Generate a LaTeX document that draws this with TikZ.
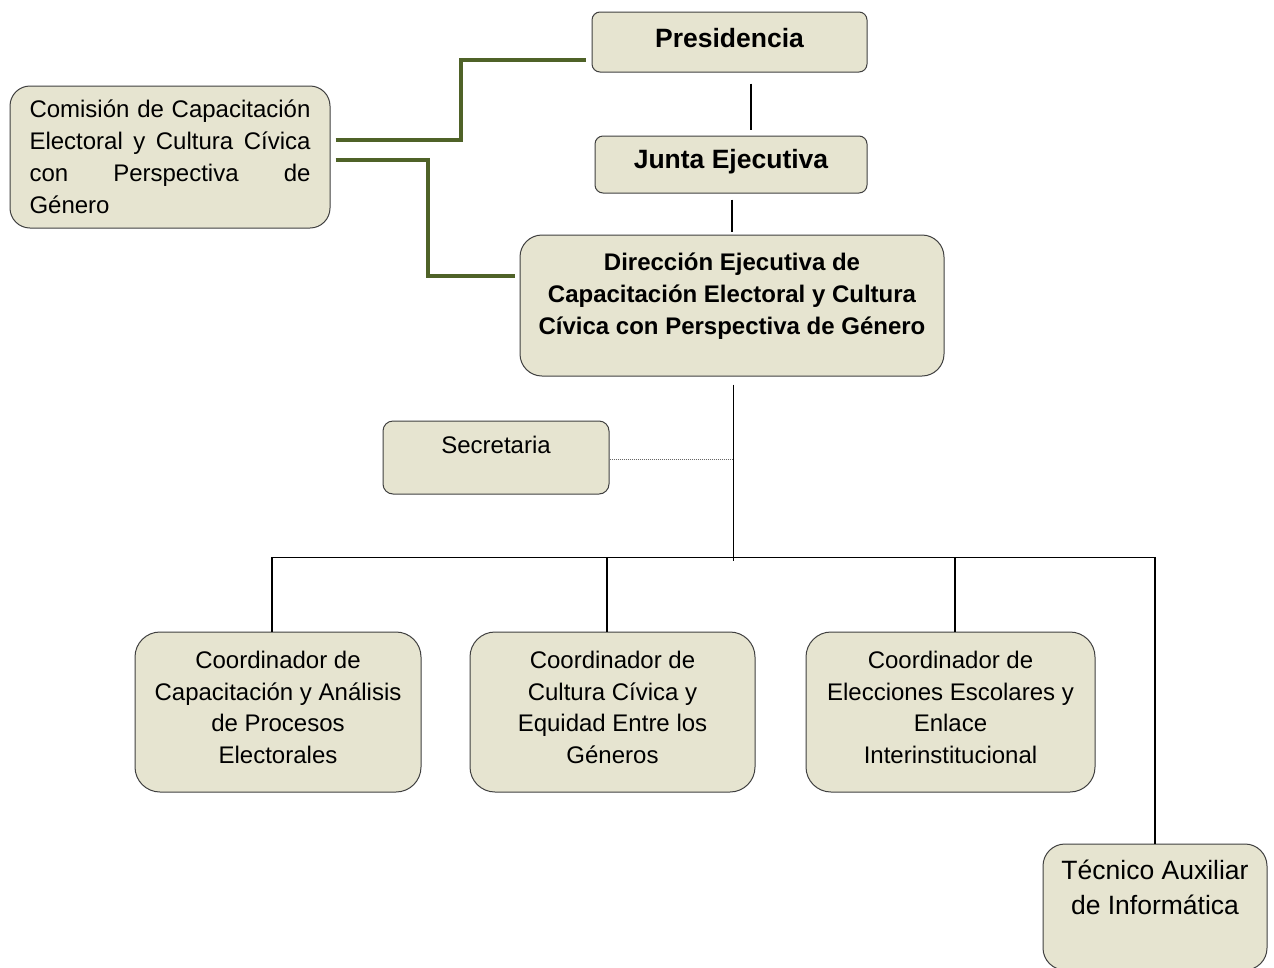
\documentclass[tikz,border=0pt]{standalone}
\usepackage{fontspec}
\setmainfont{Liberation Sans}
\definecolor{boxfill}{HTML}{E6E4D0}
\definecolor{olivegreen}{HTML}{4F6228}
\begin{document}
\begin{tikzpicture}[x=1pt,y=-1pt,
  box/.style={draw=black!75, line width=1pt, fill=boxfill, rounded corners=#1, inner sep=0pt},
  normtext/.style={font=\fontsize{24}{31.5}\selectfont},
  boldtext/.style={font=\bfseries\fontsize{26.5}{32}\selectfont},
  coordbox/.style={box=25pt, minimum height=160pt, align=center, normtext, text depth=9.6pt},
  conn/.style={draw=black, line width=1.5pt},
  thinconn/.style={draw=black, line width=1pt},
  olivelink/.style={draw=olivegreen, line width=4pt},
  dotlink/.style={draw=black!60, line width=1pt, dash pattern=on 1pt off 1pt}]
\clip (0,0) rectangle (1274,967);
\fill[white] (0,0) rectangle (1274,967);

\node[box=8pt, minimum width=275pt, minimum height=60pt, boldtext, text height=19.3pt, text depth=9.3pt] (pres) at (729.5,42) {Presidencia};
\node[box=8pt, minimum width=272pt, minimum height=57pt, boldtext, text height=19.3pt, text depth=11pt] (junta) at (731,164.5) {Junta Ejecutiva};
\node[box=22pt, minimum width=424pt, minimum height=141pt, align=center, font=\bfseries\fontsize{24}{32}\selectfont, text depth=23pt] (dir) at (732,305.5) {Dirección Ejecutiva de\\Capacitación Electoral y Cultura\\Cívica con Perspectiva de Género};
\node[box=20pt, minimum width=320pt, minimum height=142pt, text width=281pt, align=left, font=\fontsize{24}{32}\selectfont] (com) at (170,157) {\makebox[281pt][l]{Comisión\hfill de\hfill Capacitación}\\\makebox[281pt][l]{Electoral\hfill y\hfill Cultura\hfill Cívica}\\\makebox[281pt][l]{con\hfill Perspectiva\hfill de}\\Género};
\node[box=10pt, minimum width=226pt, minimum height=73pt, normtext, text height=17.6pt, text depth=26.6pt] (sec) at (496,457.5) {Secretaria};

\node[coordbox, minimum width=286pt] (c1) at (278,712) {Coordinador de\\Capacitación y Análisis\\de Procesos\\Electorales};
\node[coordbox, minimum width=285pt] (c2) at (612.5,712) {Coordinador de\\Cultura Cívica y\\Equidad Entre los\\Géneros};
\node[coordbox, minimum width=289pt] (c3) at (950.5,712) {Coordinador de\\Elecciones Escolares y\\Enlace\\Interinstitucional};
\node[box=22pt, minimum width=224pt, minimum height=126pt, align=center, font=\fontsize{26.5}{35}\selectfont, text depth=39.4pt] (tec) at (1155,907) {Técnico Auxiliar\\de Informática};

\draw[olivelink] ([xshift=5pt,yshift=17pt]com.east) -- ++(125,0) |- ([xshift=-6pt,yshift=-18pt]pres.west);
\draw[olivelink] ([xshift=5pt,yshift=-3pt]com.east) -- ++(92,0) |- ([xshift=-5pt,yshift=29.5pt]dir.west);

\draw[conn] ([xshift=21.5pt,yshift=-11pt]pres.south) -- ([xshift=20pt,yshift=6pt]junta.north);
\draw[conn] ([xshift=1pt,yshift=-6pt]junta.south) -- ([yshift=3pt]dir.north);

\coordinate (hub) at (733,561);
\coordinate (barL) at (272,557);
\coordinate (barR) at (1155,557);
\draw[thinconn] ([xshift=1pt,yshift=-8pt]dir.south) -- (hub);
\draw[dotlink] ([yshift=-1.5pt]sec.east) -- ([yshift=-1.5pt]sec.east -| hub);
\draw[thinconn] (barL) -- (barR);
\draw[conn] ([xshift=-6pt]c1.north) -- ([xshift=-6pt]c1.north |- barL);
\draw[conn] ([xshift=-5.5pt]c2.north) -- ([xshift=-5.5pt]c2.north |- barL);
\draw[conn] ([xshift=4.5pt]c3.north) -- ([xshift=4.5pt]c3.north |- barL);
\draw[conn] (tec.north) -- (tec.north |- barR);
\end{tikzpicture}
\end{document}
